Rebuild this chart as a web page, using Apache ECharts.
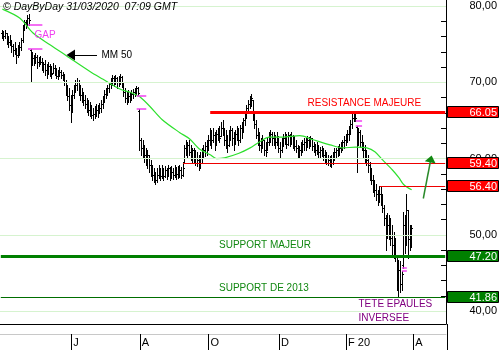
<!DOCTYPE html>
<html><head><meta charset="utf-8">
<style>html,body{margin:0;padding:0;background:#fff}#c{width:500px;height:350px}</style>
<script src="https://cdn.jsdelivr.net/npm/echarts@6/dist/echarts.min.js"></script>
</head><body><div id="c"></div>
<script>
const FONT = '"Liberation Sans", Arial, sans-serif';
// trading calendar (Euronext closing days)
const holidays = ['2019-04-19','2019-04-22','2019-05-01','2019-12-25','2019-12-26','2020-01-01','2020-04-10','2020-04-13','2020-05-01'];
const monthMarks = {'2019-06':'J','2019-08':'A','2019-10':'O','2019-12':'D','2020-02':'F 20','2020-04':'A'};
const yTickValues = [40,42,44,46,48,50,52,54,56,58,60,62,64,66,68,70,72,74,76,78,80];
const yLabelValues = [40,50,60,70,80];
const gridLineValues = [40,50,60,70,80];

// daily OHLC, 29/03/2019 .. 31/03/2020
const opens = [
76.5,76.3,76.1,76.5,75.8,75.3,75.5,74.8,74.2,74.5,
73.6,74.0,74.6,75.5,77.1,77.9,77.6,78.4,74.2,72.9,
73.2,72.9,73.3,72.7,72.9,72.7,72.1,72.4,71.6,71.4,
72.1,71.6,71.2,71.9,71.4,70.8,71.1,71.4,71.0,70.7,
70.0,69.0,68.2,67.0,67.7,68.3,69.3,69.7,70.0,69.0,
68.3,68.3,67.7,67.2,66.6,66.4,66.1,65.7,65.9,66.1,
66.4,66.4,66.6,67.2,67.7,68.5,69.0,69.3,69.8,70.3,
70.6,70.3,70.6,70.0,70.3,70.7,69.8,68.7,67.9,67.7,
68.2,68.2,68.5,68.7,69.0,69.3,66.2,62.5,61.4,61.1,
60.5,59.8,60.5,59.2,58.5,57.9,58.3,57.2,57.9,58.5,
57.7,58.3,57.7,58.5,58.0,58.8,57.6,58.3,57.9,58.5,
58.0,58.3,58.5,57.9,59.5,61.4,61.1,61.8,60.9,60.5,
61.1,60.5,60.1,59.8,59.6,60.1,60.9,61.1,61.7,61.9,
62.5,63.5,62.5,63.1,61.8,63.2,63.5,63.0,64.0,63.8,
62.5,62.2,61.8,63.1,63.8,62.7,61.9,63.2,63.8,62.5,
64.0,64.4,65.1,65.7,66.6,67.2,67.7,67.7,65.7,64.5,
63.1,62.7,61.8,61.4,62.5,61.1,61.1,62.2,63.0,63.2,
62.7,62.5,62.2,62.7,61.4,61.1,62.2,62.7,63.0,61.9,
63.1,62.7,63.0,62.2,61.7,61.4,60.9,61.1,61.4,61.9,
62.2,62.2,62.5,61.8,62.7,61.7,61.4,61.1,61.7,60.9,
61.1,61.1,60.5,60.4,60.1,59.8,59.6,60.1,60.4,60.9,
61.1,61.1,61.4,61.8,62.2,62.5,62.8,63.2,64.0,64.5,
65.3,65.5,64.2,62.5,63.5,62.2,61.8,61.1,60.5,59.8,
59.2,58.3,57.2,56.6,55.9,55.3,54.6,55.3,54.6,53.5,
52.2,50.0,51.3,50.4,49.6,48.7,48.0,47.4,44.1,45.4,
43.5,46.0,51.3,49.4,53.3,49.4,50.0];
const highs = [
76.9,76.7,76.9,76.5,76.1,76.2,75.5,75.0,75.3,74.5,
74.9,75.3,75.8,77.5,78.2,78.2,78.8,79.0,74.4,74.0,
73.6,73.8,73.6,73.3,73.5,73.2,72.7,72.9,72.4,72.7,
72.4,72.1,72.5,72.3,71.9,71.6,72.0,71.6,71.4,71.1,
70.3,69.7,69.3,68.3,69.0,69.7,70.3,70.6,70.3,69.7,
69.3,68.7,68.3,67.9,67.7,67.4,67.0,66.6,66.9,67.2,
67.0,67.3,67.7,68.2,69.0,69.3,69.7,70.0,70.6,71.0,
70.8,71.0,70.7,70.8,71.1,70.8,70.0,69.3,68.7,69.0,
68.7,69.0,69.1,69.3,69.5,69.4,66.5,62.7,62.5,61.8,
61.4,61.1,60.5,59.8,59.2,58.8,58.3,58.8,59.2,58.8,
59.2,58.8,59.0,58.8,59.2,58.9,59.0,58.8,59.2,58.9,
59.0,59.2,58.9,59.3,61.8,62.5,62.2,62.5,61.8,61.4,
61.4,61.1,60.9,60.5,60.9,61.4,61.8,62.2,62.5,63.1,
64.0,63.8,64.0,63.5,63.8,64.0,64.3,64.8,65.1,64.0,
63.8,63.1,63.8,64.3,64.0,63.5,63.8,64.3,64.0,64.4,
64.8,65.3,66.1,67.0,67.7,68.2,68.5,67.7,66.1,65.1,
64.0,63.5,62.7,63.1,62.5,62.2,62.7,63.5,63.8,63.5,
63.5,63.1,63.5,62.7,62.2,62.7,63.2,63.5,63.2,63.5,
63.2,63.5,63.1,63.0,62.5,61.8,61.7,62.2,62.5,62.7,
62.7,63.0,62.8,63.0,62.7,62.2,61.9,62.2,61.8,61.5,
61.7,61.4,61.1,60.9,60.5,60.4,60.5,60.9,61.4,61.4,
61.7,61.9,62.2,62.5,63.0,63.2,63.8,64.3,65.1,65.9,
66.0,66.2,64.3,64.0,63.8,63.1,62.2,61.8,61.1,60.5,
59.6,58.8,57.9,57.2,56.6,55.9,56.4,56.3,55.3,53.9,
52.6,52.9,52.6,52.2,51.3,50.4,49.6,47.4,46.7,46.5,
45.3,53.0,52.6,55.3,53.3,51.3,51.3];
const lows = [
75.8,75.5,75.8,75.0,74.6,74.9,74.0,73.5,73.7,72.5,
73.3,73.6,74.2,75.3,76.9,77.1,77.5,77.5,70.0,72.3,
72.3,72.5,71.9,72.1,72.4,71.6,71.4,71.0,70.6,71.1,
70.8,70.6,71.2,71.0,70.6,70.4,70.8,70.6,70.3,69.7,
68.3,67.7,66.4,64.8,66.1,67.9,68.7,69.0,68.3,67.7,
67.4,67.0,66.6,66.1,65.7,65.6,65.3,65.1,65.3,65.6,
65.5,66.0,66.1,66.6,67.4,67.9,68.3,68.7,69.3,69.7,
69.5,69.8,69.3,69.5,69.8,69.4,68.2,67.4,67.2,67.4,
67.4,67.7,67.9,68.2,68.5,68.3,61.1,60.5,60.1,59.6,
59.2,58.8,58.3,57.7,57.2,56.9,56.6,56.9,57.5,57.2,
57.5,57.2,57.6,57.3,57.7,57.2,57.5,57.3,57.6,57.3,
57.5,57.6,57.5,57.7,59.4,60.5,60.1,60.5,59.8,59.6,
59.6,59.2,59.0,58.5,58.8,59.6,60.1,60.4,60.5,61.1,
61.8,61.4,62.2,61.1,61.8,62.5,62.2,63.0,63.1,61.8,
61.4,60.9,61.7,62.5,61.8,61.1,61.9,62.5,61.8,62.2,
62.7,63.5,64.4,65.3,66.1,66.6,66.9,65.1,64.0,62.7,
61.8,61.1,60.9,61.4,60.5,60.4,61.1,61.8,62.2,61.8,
61.8,61.4,61.8,60.9,60.2,60.9,61.7,61.9,61.4,61.8,
61.7,61.9,61.4,61.1,60.9,60.2,60.2,60.5,60.9,61.1,
61.1,61.5,61.4,61.7,61.1,60.9,60.5,60.6,60.2,60.1,
60.4,59.8,59.6,59.3,59.2,59.0,58.9,59.3,59.8,60.1,
60.4,60.5,60.9,61.1,61.4,61.8,62.2,62.5,63.2,64.0,
64.9,64.9,58.3,61.8,61.5,61.1,60.1,59.6,59.2,58.3,
57.2,56.6,55.6,55.1,54.6,53.9,54.3,53.9,53.0,51.3,
48.0,49.6,49.4,48.7,47.4,47.0,46.5,42.8,41.9,42.5,
42.8,45.7,47.6,48.7,47.0,48.0,48.4];
const closes = [
76.3,76.1,76.5,75.8,75.3,75.5,74.8,74.2,74.5,73.6,
74.0,74.6,75.5,77.1,77.9,77.6,78.4,78.2,72.9,73.2,
72.9,73.3,72.7,72.9,72.7,72.1,72.4,71.6,71.4,72.1,
71.6,71.1,71.9,71.4,70.8,71.1,71.4,71.0,70.7,70.0,
69.0,68.2,67.0,67.7,68.3,69.3,69.7,70.0,69.0,68.3,
68.3,67.7,67.2,66.6,66.4,66.1,65.7,65.9,66.1,66.4,
66.4,66.6,67.2,67.7,68.5,69.0,69.3,69.8,70.3,70.6,
70.3,70.6,70.0,70.3,70.7,69.8,68.7,67.9,67.7,68.2,
68.2,68.5,68.7,69.0,69.3,68.6,62.5,61.4,61.1,60.5,
59.8,60.5,59.2,58.5,57.9,58.3,57.2,57.9,58.5,57.7,
58.3,57.7,58.5,58.0,58.8,57.6,58.3,57.9,58.5,58.0,
58.3,58.5,57.9,58.8,61.4,61.1,61.8,60.9,60.5,61.1,
60.5,60.1,59.8,59.6,60.1,60.9,61.1,61.7,61.9,62.5,
63.5,62.5,63.1,61.8,63.2,63.5,62.7,64.0,63.8,62.5,
62.2,61.8,63.1,63.8,62.7,61.9,63.2,63.8,62.5,64.0,
64.4,65.1,65.7,66.6,67.2,67.7,67.9,65.7,64.5,63.1,
62.7,61.8,61.4,62.5,61.1,60.9,62.2,63.0,63.2,62.7,
62.5,62.2,63.0,61.4,61.1,62.2,62.7,63.0,61.9,63.1,
62.7,63.0,62.2,61.7,61.4,60.9,61.1,61.4,61.9,62.2,
62.2,62.5,61.8,62.7,61.7,61.4,61.1,61.7,60.9,61.1,
61.1,60.5,60.4,60.1,59.8,59.6,60.1,60.4,60.9,61.1,
61.1,61.4,61.8,62.2,62.5,62.8,63.2,64.0,64.5,65.3,
65.5,65.3,62.5,63.5,62.2,61.8,61.1,60.5,59.8,59.2,
58.3,57.2,56.6,55.9,55.3,54.6,55.3,54.6,53.5,52.2,
50.0,51.3,50.4,49.6,48.7,48.0,47.4,44.1,45.4,43.5,
44.8,51.3,49.4,53.3,49.4,50.0,50.9];
const firstBarIndex = 1;

// 50-day moving average (category index, value)
const mmIdx = [1,12,20,31,41,56,64,72,76,81,85,87,93,101,112,118,124,131,135,140,149,156,162,168,176,187,195,206,214,222,229,234,239,245,249,252,257];
const mmVal = [79.6,78.4,76.5,74.9,73.5,71.4,70.4,69.4,69.0,68.7,68.3,68.1,66.9,65.1,63.4,62.6,61.3,60.5,60.0,60.1,60.7,61.4,62.2,62.8,62.8,63.0,62.5,61.8,61.4,61.5,61.4,60.9,59.8,58.5,57.5,56.6,55.9];

// price levels
const levelValues = [66.05, 59.40, 56.40, 47.20, 41.86];
const levelStart = [131, 114, 237, 0, 0];
// gaps: pre-gap / post-gap extremes
const gapA = [77.5, 68.3, 64.9, 45.7];
const gapB = [74.4, 66.5, 64.3, 45.3];
const gapFrom = [17, 85, 222, 251];
const gapTo = [26, 91, 226, 254];

// build calendar
const days = [];
let t = Date.UTC(2019, 2, 28);
while (days.length < 279) {
  const d = new Date(t);
  const wd = d.getUTCDay();
  const s = d.toISOString().slice(0, 10);
  if (wd !== 0 && wd !== 6 && holidays.indexOf(s) < 0) days.push(s);
  t += 86400000;
}
const lastIdx = days.length - 1;
const tickAt = {};
days.forEach((d, i) => {
  const m = d.slice(0, 7);
  if (monthMarks[m] && (i === 0 || days[i - 1].slice(0, 7) !== m)) tickAt[i] = monthMarks[m];
});

const bars = closes.map((c, k) => [k + firstBarIndex, opens[k], highs[k], lows[k], c]);
const mmData = mmIdx.map((x, k) => [x, mmVal[k]]);

// styles for levels
const levelStyle = [
  {color: '#ff0000', width: 3},
  {color: '#ee0000', width: 1},
  {color: '#ee0000', width: 1},
  {color: '#008000', width: 3},
  {color: '#006e00', width: 1}
];
const tagColors = ['#ff0000', '#ff0000', '#ff0000', '#008000', '#008000'];

const markData = [];
gridLineValues.forEach(v => markData.push({yAxis: v, lineStyle: {color: '#d6f3cf', width: 1, type: 'solid'}}));
levelValues.forEach((v, k) => {
  markData.push([
    {coord: [levelStart[k], v], lineStyle: {color: levelStyle[k].color, width: levelStyle[k].width, type: 'solid'}},
    {coord: [lastIdx, v]}
  ]);
});
gapA.forEach((v, k) => {
  markData.push([{coord: [gapFrom[k], v], lineStyle: {color: '#f040f0', width: 1.5, type: 'solid'}}, {coord: [gapTo[k], v]}]);
  markData.push([{coord: [gapFrom[k], gapB[k]], lineStyle: {color: '#f040f0', width: 1.5, type: 'solid'}}, {coord: [gapTo[k], gapB[k]]}]);
});

const chart = echarts.init(document.getElementById('c'), null, {renderer: 'canvas', width: 500, height: 350});
const option = {
  animation: false,
  backgroundColor: '#ffffff',
  grid: {left: 0, right: 53, top: 0, height: 324, containLabel: false},
  xAxis: [
    {type: 'category', data: days, boundaryGap: true,
     axisLine: {show: true, lineStyle: {color: '#000', width: 1}},
     axisTick: {show: false}, axisLabel: {show: false}, splitLine: {show: false}},
    {type: 'category', data: days, boundaryGap: true, position: 'bottom', offset: 10,
     axisLine: {show: true, lineStyle: {color: '#c8c8c8', width: 1}},
     axisTick: {show: true, alignWithLabel: true, length: 16, interval: (i) => tickAt[i] !== undefined, lineStyle: {color: '#000', width: 1}},
     axisLabel: {show: true, interval: (i) => tickAt[i] !== undefined, formatter: (v, i) => tickAt[i] || '',
       align: 'left', margin: 3, padding: [0, 0, 0, 2], color: '#000', fontSize: 11, fontFamily: FONT},
     splitLine: {show: false}}
  ],
  yAxis: {type: 'value', position: 'right', min: 38.3, max: 80.8,
    axisLine: {show: true, lineStyle: {color: '#000', width: 1}},
    axisTick: {show: true, inside: true, length: 5, customValues: yTickValues, lineStyle: {color: '#000'}},
    axisLabel: {show: true, customValues: yLabelValues, formatter: (v) => v.toFixed(2).replace('.', ','),
      align: 'right', margin: 51, color: '#000', fontSize: 11, fontFamily: FONT},
    splitLine: {show: false}},
  series: [
    {type: 'line', name: 'levels', data: closes.map((c, k) => [k + firstBarIndex, c]), z: 1, silent: true,
     showSymbol: false, lineStyle: {opacity: 0, width: 0},
     markLine: {silent: true, symbol: ['none', 'none'], animation: false, label: {show: false}, data: markData}},
    {type: 'custom', name: 'price', data: bars, z: 2,
     encode: {x: 0, y: [1, 2, 3, 4]},
     renderItem: function (params, api) {
       const idx = api.value(0);
       const pO = api.coord([idx, api.value(1)]);
       const pH = api.coord([idx, api.value(2)]);
       const pL = api.coord([idx, api.value(3)]);
       const pC = api.coord([idx, api.value(4)]);
       const x = Math.floor(pO[0]) + 0.5;
       const yo = Math.round(pO[1]) + 0.5, yc = Math.round(pC[1]) + 0.5;
       const st = {stroke: '#000', lineWidth: 1};
       return {type: 'group', children: [
         {type: 'line', shape: {x1: x, y1: Math.round(pH[1]), x2: x, y2: Math.round(pL[1]) + 1}, style: st},
         {type: 'line', shape: {x1: x - 1.5, y1: yo, x2: x, y2: yo}, style: st},
         {type: 'line', shape: {x1: x, y1: yc, x2: x + 1.5, y2: yc}, style: st}
       ]};
     }},
    {type: 'line', name: 'MM 50', data: mmData, z: 3, showSymbol: false, smooth: 0.3, silent: true,
     lineStyle: {color: '#2ee02e', width: 1.2}}
  ]
};
chart.setOption(option);

function txt(text, x, y, color, font, align) {
  return {type: 'text', x: x, y: y, z: 60,
    style: {text: text, fill: color, font: font, align: align || 'left', verticalAlign: 'middle',
            textAlign: align || 'left', textVerticalAlign: 'middle'}};
}
const F10 = '10px ' + FONT;
const g = [];
g.push(txt('\u00a9 DayByDay 31/03/2020  07:09 GMT', 3, 7, '#000', 'italic 10.5px ' + FONT));
g.push(txt('GAP', 34.5, 35, '#f040f0', F10));
g.push(txt('MM 50', 101.5, 55, '#000', F10));
g.push({type: 'polygon', z: 60, shape: {points: [[66.5, 55], [75, 49.5], [75, 60.5]]}, style: {fill: '#000'}});
g.push({type: 'line', z: 60, shape: {x1: 75, y1: 55.5, x2: 97, y2: 55.5}, style: {stroke: '#000', lineWidth: 1}});
g.push(txt('RESISTANCE MAJEURE', 307.5, 103.5, '#ff0000', F10));
g.push(txt('SUPPORT MAJEUR', 219, 245.5, '#118811', F10));
g.push(txt('SUPPORT DE 2013', 219, 288, '#118811', F10));
g.push(txt('TETE EPAULES', 358.5, 304.5, '#800080', F10));
g.push(txt('INVERSEE', 358.5, 318.5, '#800080', F10));
// green arrow
g.push({type: 'line', z: 60, shape: {x1: 423.3, y1: 198.5, x2: 430.3, y2: 162}, style: {stroke: '#2a8a2a', lineWidth: 1.5}});
g.push({type: 'polygon', z: 60, shape: {points: [[431.6, 155.5], [435.6, 163.4], [424.8, 161.3]]}, style: {fill: '#118811'}});
// right axis continues through the date strip
g.push({type: 'line', z: 60, shape: {x1: 447.5, y1: 324, x2: 447.5, y2: 350}, style: {stroke: '#000', lineWidth: 1}});
// price tags
levelValues.forEach((v, k) => {
  const y = Math.round(chart.convertToPixel({yAxisIndex: 0}, v));
  g.push({type: 'rect', z: 70, shape: {x: 447.5, y: y - 5.5, width: 51, height: 11},
          style: {fill: tagColors[k], stroke: '#000', lineWidth: 1}});
  g.push(Object.assign(txt(v.toFixed(2), 497, y + 0.5, '#fff', '11px ' + FONT, 'right'), {z: 71}));
});
chart.setOption({graphic: {elements: g}});
</script>
</body></html>
